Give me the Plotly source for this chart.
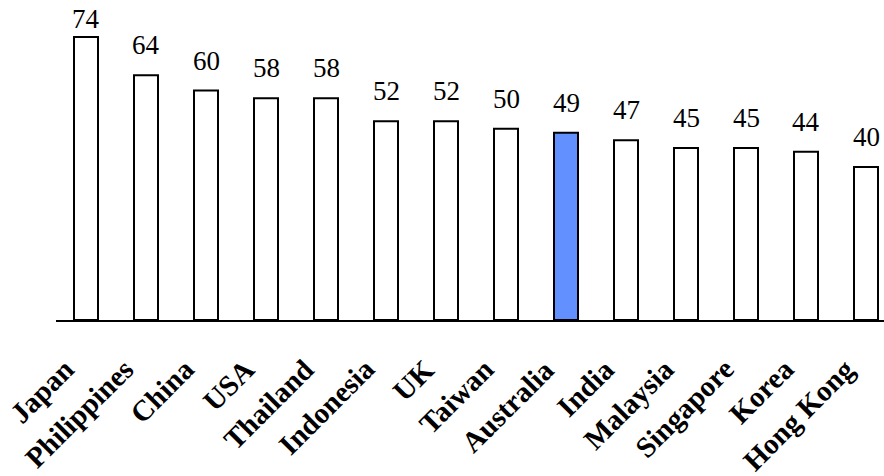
import plotly.graph_objects as go

countries = ["Japan", "Philippines", "China", "USA", "Thailand", "Indonesia", "UK",
             "Taiwan", "Australia", "India", "Malaysia", "Singapore", "Korea", "Hong Kong"]
values = [74, 64, 60, 58, 58, 52, 52, 50, 49, 47, 45, 45, 44, 40]
highlight = "Australia"

fills = ["#6290FF" if c == highlight else "white" for c in countries]
serif = "Liberation Serif"

Y_MAX = 83.7
PLOT_H = 320  # plot area height in px (476 - bottom margin)
px_per_unit = PLOT_H / Y_MAX

fig = go.Figure(go.Bar(
    x=countries,
    y=values,
    marker=dict(color=fills, line=dict(color="black", width=2)),
    cliponaxis=False,
    width=0.4,
))

# value labels above each bar, pulled down near the top edge so they stay visible
for c, v in zip(countries, values):
    room = (Y_MAX - v) * px_per_unit
    shift = min(13, max(1, room - 36))
    fig.add_annotation(
        x=c, y=v, xref="x", yref="y",
        text=str(v),
        showarrow=False,
        xanchor="center", yanchor="bottom",
        yshift=shift,
        font=dict(family=serif, size=27, color="black"),
    )

# rotated country names under the axis
for c in countries:
    fig.add_annotation(
        x=c, y=0, xref="x", yref="y",
        text=f"<b>{c}</b>",
        textangle=-45,
        showarrow=False,
        xanchor="right", yanchor="top",
        xshift=-3, yshift=-30,
        font=dict(family=serif, size=29, color="black"),
    )

fig.update_layout(
    width=884, height=476,
    margin=dict(l=56, r=0, t=0, b=156),
    plot_bgcolor="white", paper_bgcolor="white",
    font=dict(family=serif, color="black"),
    showlegend=False,
)
fig.update_xaxes(
    range=[-0.5, 13.3],
    showline=True, linecolor="black", linewidth=2,
    showgrid=False, ticks="", showticklabels=False,
)
fig.update_yaxes(range=[0, Y_MAX], visible=False, showgrid=False, zeroline=False)

fig.write_html("out.html")
